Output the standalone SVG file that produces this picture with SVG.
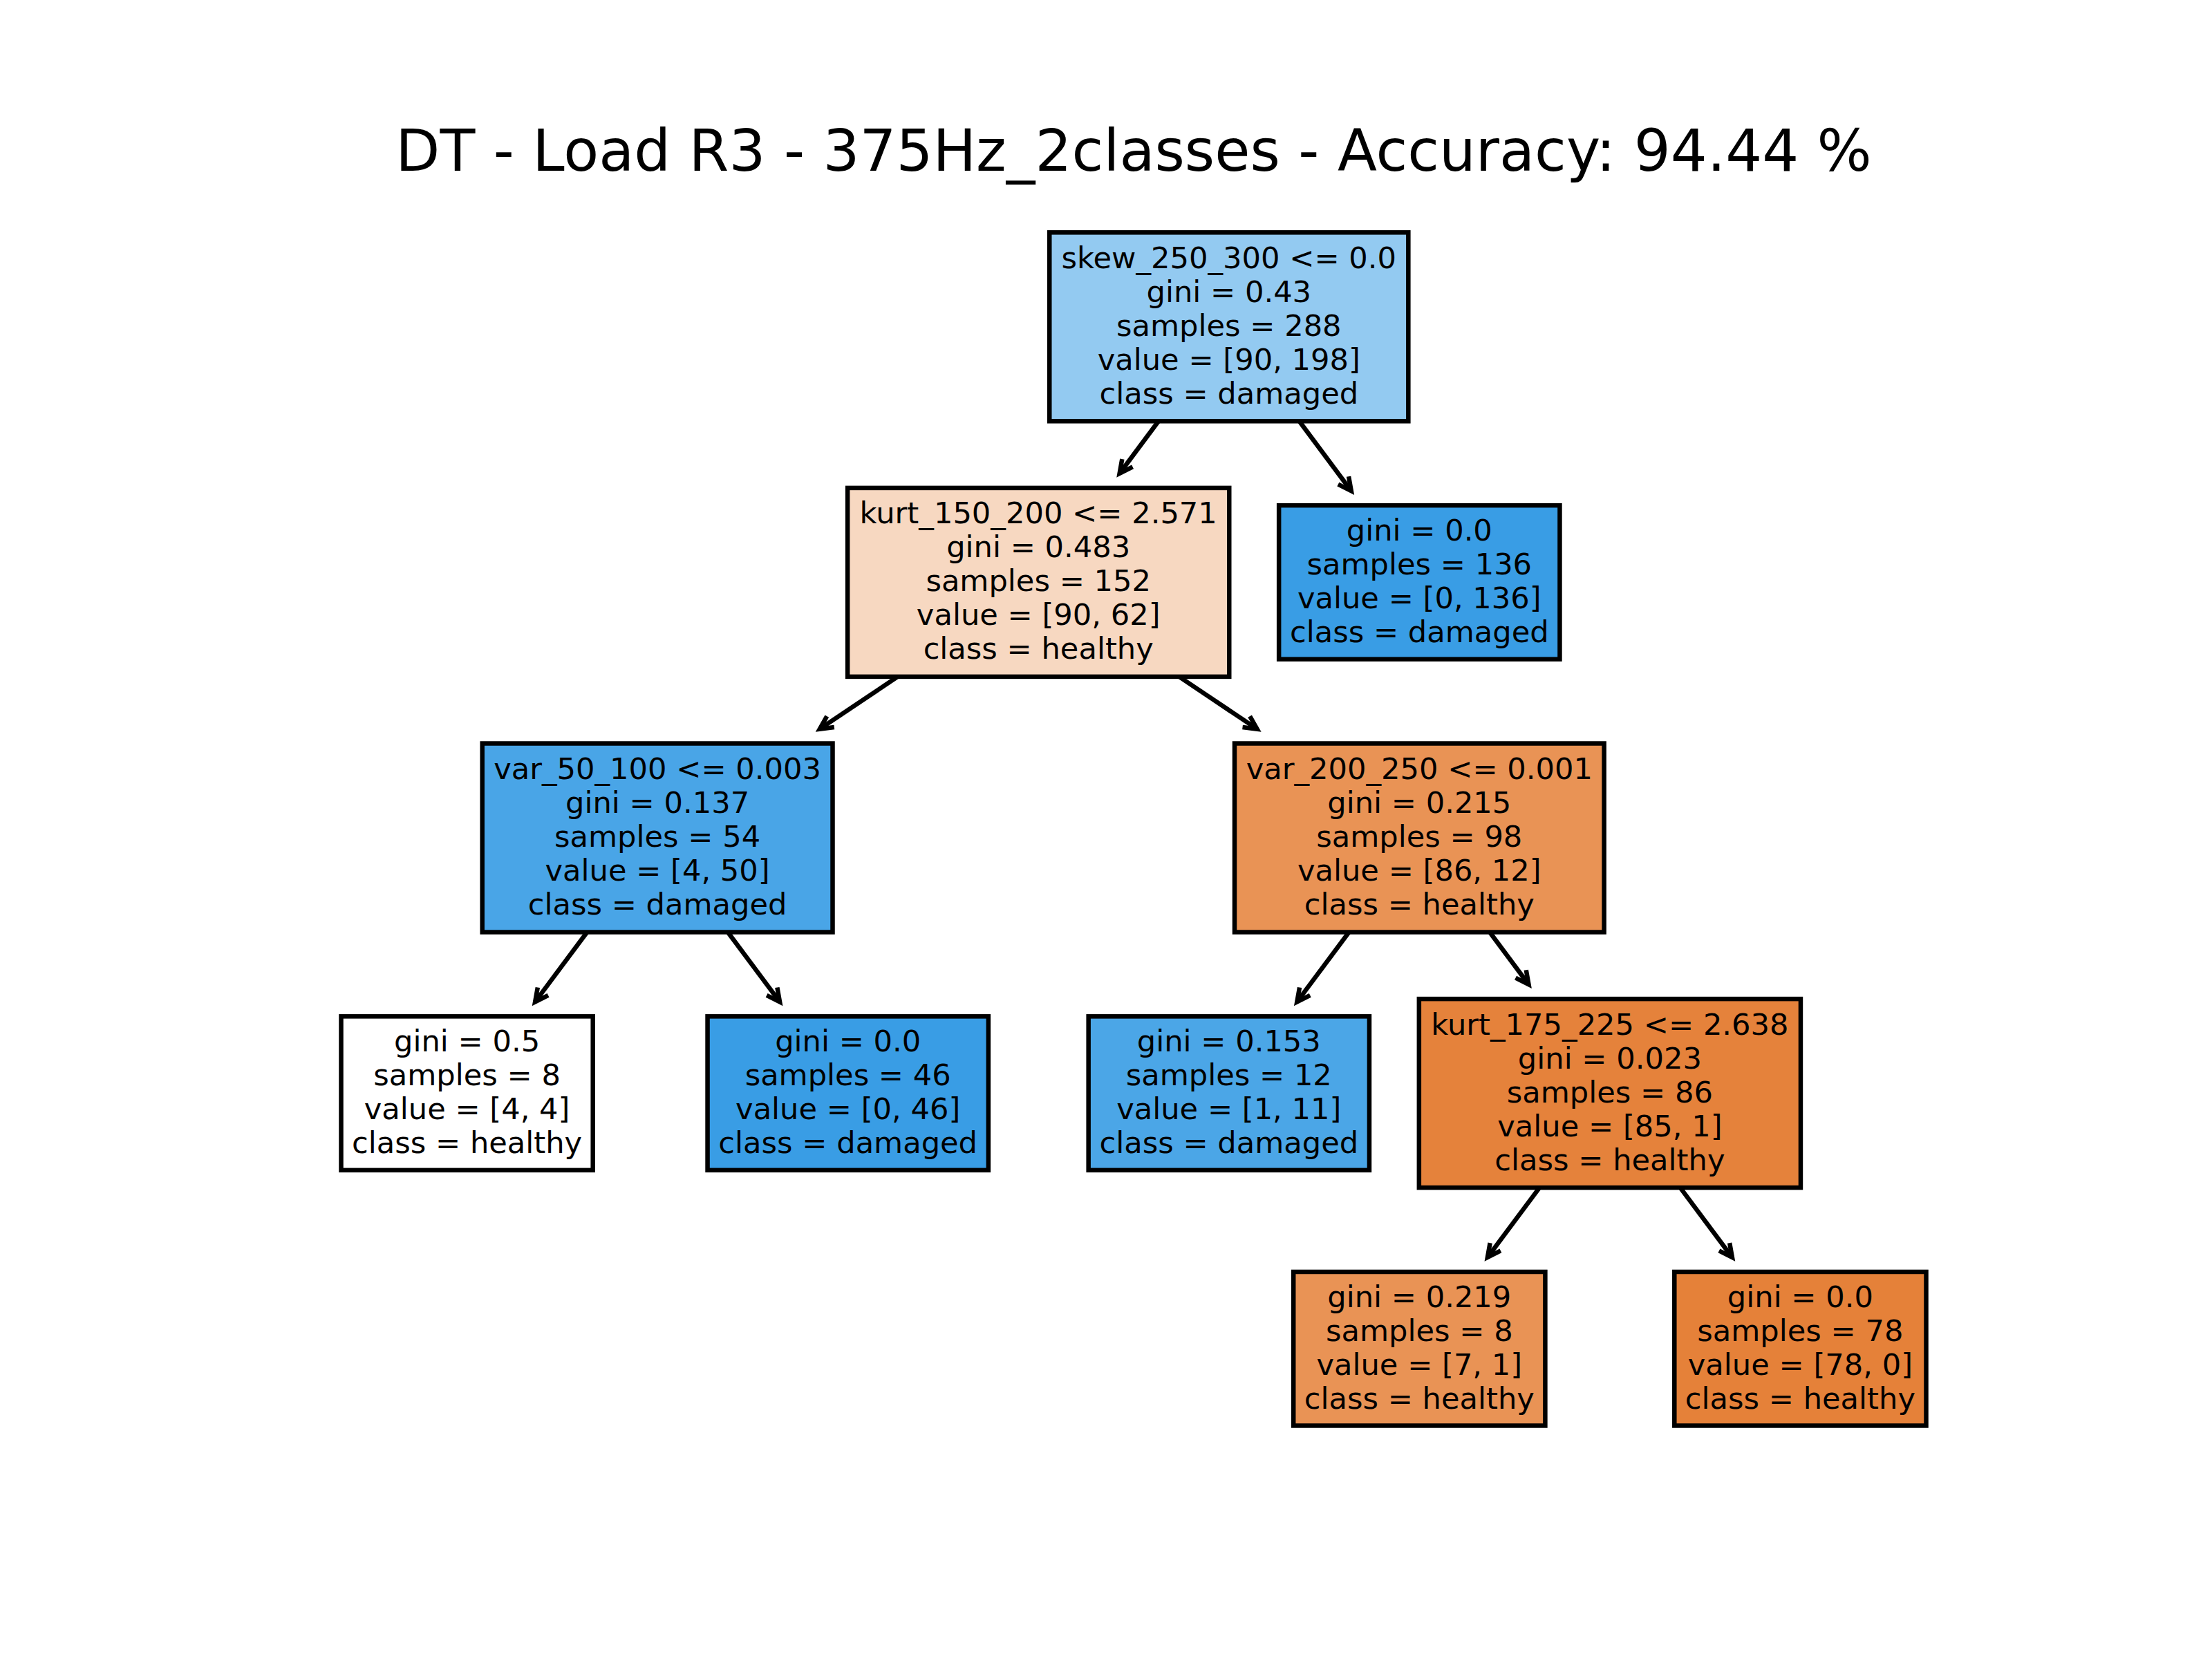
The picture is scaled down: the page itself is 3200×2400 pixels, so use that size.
<svg xmlns="http://www.w3.org/2000/svg" width="3200" height="2400" viewBox="0 0 3200 2400">
<defs>
<style>
.bg{fill:#ffffff}
.box{stroke:#000000;stroke-width:6.5}
.t{font-family:"DejaVu Sans","Liberation Sans",sans-serif;font-size:43.2px;fill:#000000;text-anchor:middle}
.title{font-family:"DejaVu Sans","Liberation Sans",sans-serif;font-size:83.3px;fill:#000000;text-anchor:middle}
.edge{stroke:#000000;stroke-width:6.5;fill:none;marker-end:url(#head)}
</style>
<marker id="head" markerUnits="userSpaceOnUse" viewBox="-30 -20 40 40" markerWidth="40" markerHeight="40" refX="0" refY="0" orient="auto">
<path d="M-19,-9.5 L0,0 L-19,9.5" fill="none" stroke="#000000" stroke-width="6.5" stroke-linejoin="miter"/>
</marker>
</defs>
<rect class="bg" x="0" y="0" width="3200" height="2400"/>
<text class="title" x="1640" y="247">DT - Load R3 - 375Hz_2classes - Accuracy: 94.44 %</text>
<g id="connectors">
<line class="edge" x1="1676.0" y1="609.3" x2="1619.6" y2="685.0"/>
<line class="edge" x1="1879.6" y1="609.3" x2="1954.8" y2="710.2"/>
<line class="edge" x1="1298.7" y1="978.9" x2="1185.8" y2="1054.6"/>
<line class="edge" x1="1705.7" y1="978.9" x2="1818.6" y2="1054.6"/>
<line class="edge" x1="849.3" y1="1348.5" x2="774.1" y2="1449.4"/>
<line class="edge" x1="1052.9" y1="1348.5" x2="1128.1" y2="1449.4"/>
<line class="edge" x1="1951.5" y1="1348.5" x2="1876.3" y2="1449.4"/>
<line class="edge" x1="2155.1" y1="1348.5" x2="2211.5" y2="1424.2"/>
<line class="edge" x1="2227.1" y1="1718.1" x2="2151.9" y2="1819.0"/>
<line class="edge" x1="2430.7" y1="1718.1" x2="2505.9" y2="1819.0"/>
</g>
<g id="n0">
<rect class="box" x="1518.25" y="336.3" width="519.1" height="273" fill="#93caf1"/>
<text class="t" x="1777.8" y="387.8">skew_250_300 &lt;= 0.0</text>
<text class="t" x="1777.8" y="436.8">gini = 0.43</text>
<text class="t" x="1777.8" y="485.8">samples = 288</text>
<text class="t" x="1777.8" y="534.8">value = [90, 198]</text>
<text class="t" x="1777.8" y="583.8">class = damaged</text>
</g>
<g id="n1">
<rect class="box" x="1226.15" y="705.9" width="552.1" height="273" fill="#f7d8c1"/>
<text class="t" x="1502.2" y="757.4">kurt_150_200 &lt;= 2.571</text>
<text class="t" x="1502.2" y="806.4">gini = 0.483</text>
<text class="t" x="1502.2" y="855.4">samples = 152</text>
<text class="t" x="1502.2" y="904.4">value = [90, 62]</text>
<text class="t" x="1502.2" y="953.4">class = healthy</text>
</g>
<g id="n2">
<rect class="box" x="1850.15" y="731.15" width="406.3" height="222.5" fill="#399de5"/>
<text class="t" x="2053.3" y="782.15">gini = 0.0</text>
<text class="t" x="2053.3" y="831.15">samples = 136</text>
<text class="t" x="2053.3" y="880.15">value = [0, 136]</text>
<text class="t" x="2053.3" y="929.15">class = damaged</text>
</g>
<g id="n3">
<rect class="box" x="697.7" y="1075.5" width="506.8" height="273" fill="#49a5e7"/>
<text class="t" x="951.1" y="1127">var_50_100 &lt;= 0.003</text>
<text class="t" x="951.1" y="1176">gini = 0.137</text>
<text class="t" x="951.1" y="1225">samples = 54</text>
<text class="t" x="951.1" y="1274">value = [4, 50]</text>
<text class="t" x="951.1" y="1323">class = damaged</text>
</g>
<g id="n4">
<rect class="box" x="1786.0" y="1075.5" width="534.6" height="273" fill="#e99355"/>
<text class="t" x="2053.3" y="1127">var_200_250 &lt;= 0.001</text>
<text class="t" x="2053.3" y="1176">gini = 0.215</text>
<text class="t" x="2053.3" y="1225">samples = 98</text>
<text class="t" x="2053.3" y="1274">value = [86, 12]</text>
<text class="t" x="2053.3" y="1323">class = healthy</text>
</g>
<g id="n5">
<rect class="box" x="493.5" y="1470.35" width="364.2" height="222.5" fill="#ffffff"/>
<text class="t" x="675.6" y="1521.35">gini = 0.5</text>
<text class="t" x="675.6" y="1570.35">samples = 8</text>
<text class="t" x="675.6" y="1619.35">value = [4, 4]</text>
<text class="t" x="675.6" y="1668.35">class = healthy</text>
</g>
<g id="n6">
<rect class="box" x="1023.55" y="1470.35" width="406.3" height="222.5" fill="#399de5"/>
<text class="t" x="1226.7" y="1521.35">gini = 0.0</text>
<text class="t" x="1226.7" y="1570.35">samples = 46</text>
<text class="t" x="1226.7" y="1619.35">value = [0, 46]</text>
<text class="t" x="1226.7" y="1668.35">class = damaged</text>
</g>
<g id="n7">
<rect class="box" x="1574.65" y="1470.35" width="406.3" height="222.5" fill="#4ba6e7"/>
<text class="t" x="1777.8" y="1521.35">gini = 0.153</text>
<text class="t" x="1777.8" y="1570.35">samples = 12</text>
<text class="t" x="1777.8" y="1619.35">value = [1, 11]</text>
<text class="t" x="1777.8" y="1668.35">class = damaged</text>
</g>
<g id="n8">
<rect class="box" x="2052.85" y="1445.1" width="552.1" height="273" fill="#e5823b"/>
<text class="t" x="2328.9" y="1496.6">kurt_175_225 &lt;= 2.638</text>
<text class="t" x="2328.9" y="1545.6">gini = 0.023</text>
<text class="t" x="2328.9" y="1594.6">samples = 86</text>
<text class="t" x="2328.9" y="1643.6">value = [85, 1]</text>
<text class="t" x="2328.9" y="1692.6">class = healthy</text>
</g>
<g id="n9">
<rect class="box" x="1871.2" y="1839.95" width="364.2" height="222.5" fill="#e99355"/>
<text class="t" x="2053.3" y="1890.95">gini = 0.219</text>
<text class="t" x="2053.3" y="1939.95">samples = 8</text>
<text class="t" x="2053.3" y="1988.95">value = [7, 1]</text>
<text class="t" x="2053.3" y="2037.95">class = healthy</text>
</g>
<g id="n10">
<rect class="box" x="2422.3" y="1839.95" width="364.2" height="222.5" fill="#e58139"/>
<text class="t" x="2604.4" y="1890.95">gini = 0.0</text>
<text class="t" x="2604.4" y="1939.95">samples = 78</text>
<text class="t" x="2604.4" y="1988.95">value = [78, 0]</text>
<text class="t" x="2604.4" y="2037.95">class = healthy</text>
</g>
</svg>
